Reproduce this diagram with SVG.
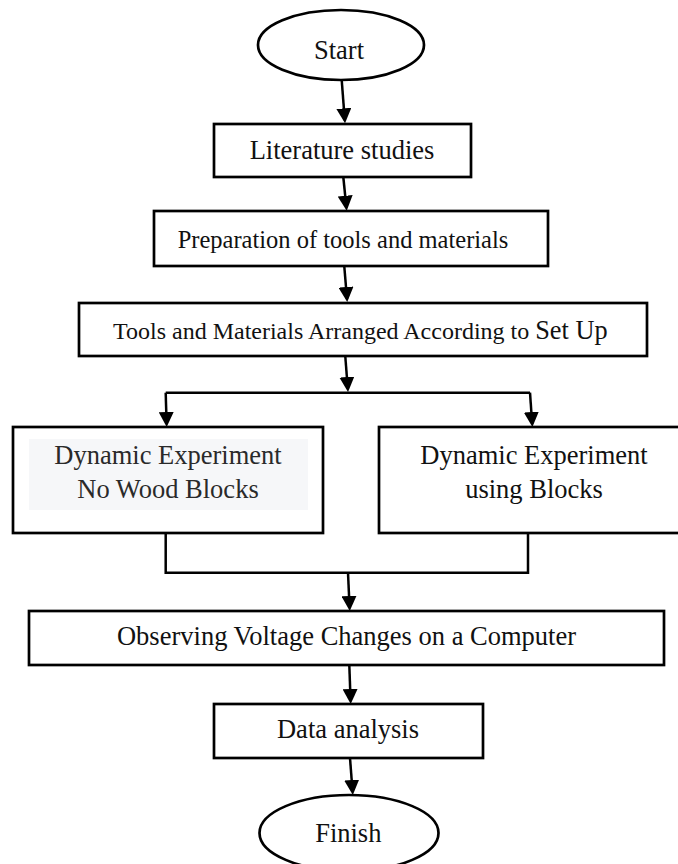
<svg xmlns="http://www.w3.org/2000/svg" width="678" height="864" viewBox="0 0 678 864">
<defs>
<style>
.box{fill:#fff;stroke:#000;stroke-width:2.7}
.ln{fill:none;stroke:#000;stroke-width:2.5}
.t{font-family:"Liberation Serif","Times New Roman",serif;font-size:26.5px;fill:#111;text-anchor:middle}
</style>
<marker id="ah" viewBox="0 0 15 15" refX="12" refY="7.5" markerWidth="15" markerHeight="15" markerUnits="userSpaceOnUse" orient="auto">
<path d="M0,0 L15,7.5 L0,15 z" fill="#000"/>
</marker>
</defs>
<rect width="678" height="864" fill="#fff"/>
<g id="connectors">
<path class="ln" d="M341.7,80 L344.8,120.3" marker-end="url(#ah)"/>
<path class="ln" d="M343.3,177 L346.4,207.7" marker-end="url(#ah)"/>
<path class="ln" d="M344.3,266.5 L347,299" marker-end="url(#ah)"/>
<path class="ln" d="M345.3,356.5 L347.8,389" marker-end="url(#ah)"/>
<path class="ln" d="M165.7,392.7 L530,392.7"/>
<path class="ln" d="M165.7,392.7 L166.6,424" marker-end="url(#ah)"/>
<path class="ln" d="M530,392.7 L532.2,424" marker-end="url(#ah)"/>
<path class="ln" d="M165.7,533 L165.7,572.7 L528,572.7 L528,533"/>
<path class="ln" d="M348,572.7 L349.6,608" marker-end="url(#ah)"/>
<path class="ln" d="M349.3,665 L350.6,701" marker-end="url(#ah)"/>
<path class="ln" d="M350,758 L352.6,792" marker-end="url(#ah)"/>
</g>
<g id="start">
<ellipse class="box" cx="341" cy="45" rx="83" ry="35"/>
<text class="t" x="339" y="59">Start</text>
</g>
<g id="literature">
<rect class="box" x="214" y="124" width="257" height="53"/>
<text class="t" x="342" y="159">Literature studies</text>
</g>
<g id="preparation">
<rect class="box" x="154" y="211" width="394" height="55"/>
<text class="t" x="343" y="248" style="font-size:24.5px">Preparation of tools and materials</text>
</g>
<g id="tools">
<rect class="box" x="79" y="303" width="568" height="53"/>
<text class="t" x="113" y="339" style="font-size:24px;text-anchor:start">Tools and Materials Arranged According to <tspan style="font-size:26.3px">Set Up</tspan></text>
</g>
<g id="no-wood">
<rect class="box" x="13" y="427" width="310" height="106"/>
<rect x="29" y="439" width="279" height="71" fill="#f6f7f9"/>
<text class="t" x="168" y="464" style="fill:#2a2a2a">Dynamic Experiment</text>
<text class="t" x="168" y="498" style="fill:#2a2a2a">No Wood Blocks</text>
</g>
<g id="using-blocks">
<rect class="box" x="379" y="427" width="311" height="106"/>
<text class="t" x="534" y="464">Dynamic Experiment</text>
<text class="t" x="534" y="498">using Blocks</text>
</g>
<g id="observing">
<rect class="box" x="29" y="611" width="635" height="54"/>
<text class="t" x="346.5" y="645">Observing Voltage Changes on a Computer</text>
</g>
<g id="data">
<rect class="box" x="214" y="704" width="269" height="54"/>
<text class="t" x="348" y="738">Data analysis</text>
</g>
<g id="finish">
<ellipse class="box" cx="349" cy="833" rx="89.5" ry="38"/>
<text class="t" x="348.3" y="842">Finish</text>
</g>
</svg>
